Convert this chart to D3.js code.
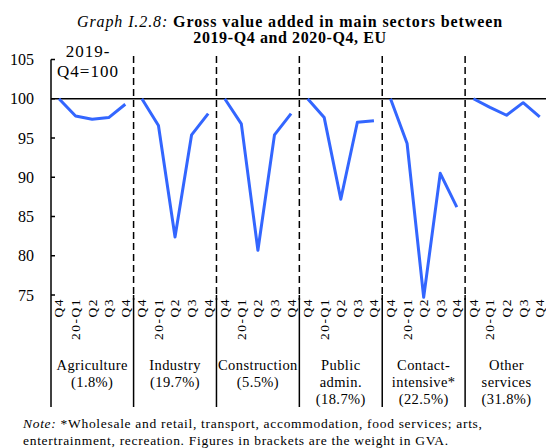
<!DOCTYPE html>
<html>
<head>
<meta charset="utf-8">
<script src="https://cdn.jsdelivr.net/npm/d3@7"></script>
<style>
  body { margin: 0; background: #fff; }
  text { font-family: "Liberation Serif", "Times New Roman", serif; fill: #000; }
</style>
</head>
<body>
<div id="chart"></div>
<script>
// sectors, each with 5 quarters (2019-Q4 .. 2020-Q4), index 2019-Q4 = 100
const sectors = [
  ["Agriculture", "(1.8%)"],
  ["Industry", "(19.7%)"],
  ["Construction", "(5.5%)"],
  ["Public", "admin.", "(18.7%)"],
  ["Contact-", "intensive*", "(22.5%)"],
  ["Other", "services", "(31.8%)"]
];
const quarters = ["Q4", "20-Q1", "Q2", "Q3", "Q4"];
const agriculture = [100, 97.8, 97.4, 97.6, 99.3];
const industry = [100, 96.6, 82.4, 95.4, 98.1];
const construction = [100, 96.8, 80.7, 95.4, 98.1];
const publicAdmin = [100, 97.6, 87.2, 97.0, 97.2];
const contactIntensive = [100, 94.3, 74.7, 90.5, 86.2];
const otherServices = [100, 98.9, 97.9, 99.5, 97.7];
const seriesValues = [agriculture, industry, construction, publicAdmin, contactIntensive, otherServices];
const yTicks = [75, 80, 85, 90, 95, 100, 105];

const W = 546, H = 448;
const svg = d3.select("#chart").append("svg")
  .attr("width", W).attr("height", H);

const nQ = quarters.length;
const keys = d3.range(sectors.length * nQ);

const x = d3.scaleBand()
  .domain(keys)
  .range([50.7, 548]);

const y = d3.scaleLinear()
  .domain([75, 105])
  .range([295, 59.5]);

const axisX = 51;
const bottomY = 407;

// title
const title = svg.append("text")
  .attr("x", 290).attr("y", 27)
  .attr("text-anchor", "middle")
  .style("font-size", "16px")
  .style("letter-spacing", "0.9px");
title.append("tspan").attr("font-style", "italic").text("Graph I.2.8: ");
title.append("tspan").attr("font-weight", "bold").text("Gross value added in main sectors between");
svg.append("text")
  .attr("x", 290).attr("y", 43)
  .attr("text-anchor", "middle")
  .attr("font-weight", "bold")
  .style("font-size", "16px")
  .style("letter-spacing", "0.6px")
  .text("2019-Q4 and 2020-Q4, EU");

// unit label
svg.append("text").attr("x", 88).attr("y", 57)
  .attr("text-anchor", "middle").style("font-size", "17px").style("letter-spacing", "1px").text("2019-");
svg.append("text").attr("x", 88).attr("y", 77)
  .attr("text-anchor", "middle").style("font-size", "17px").style("letter-spacing", "1px").text("Q4=100");

// y axis
svg.append("line")
  .attr("x1", axisX).attr("x2", axisX)
  .attr("y1", y(105)).attr("y2", bottomY)
  .attr("stroke", "#000").attr("stroke-width", 1.5);

svg.selectAll(".ytick")
  .data(yTicks)
  .enter()
  .append("line")
  .attr("x1", axisX).attr("x2", axisX + 4)
  .attr("y1", d => y(d)).attr("y2", d => y(d))
  .attr("stroke", "#000").attr("stroke-width", 1.5);

svg.selectAll(".ylab")
  .data(yTicks)
  .enter()
  .append("text")
  .attr("x", 34)
  .attr("y", d => y(d))
  .attr("dy", "0.35em")
  .attr("text-anchor", "end")
  .style("font-size", "16px")
  .text(d => d);

// reference line at 100
svg.append("line")
  .attr("x1", axisX).attr("x2", W)
  .attr("y1", y(100)).attr("y2", y(100))
  .attr("stroke", "#000").attr("stroke-width", 1.5);

// dividers between sectors
const dividers = d3.range(1, sectors.length).map(g => x(g * nQ));
svg.selectAll(".dash")
  .data(dividers)
  .enter()
  .append("line")
  .attr("x1", d => d).attr("x2", d => d)
  .attr("y1", 56).attr("y2", 300)
  .attr("stroke", "#000").attr("stroke-width", 1.5)
  .attr("stroke-dasharray", "7,4");

svg.selectAll(".solid")
  .data(dividers)
  .enter()
  .append("line")
  .attr("x1", d => d).attr("x2", d => d)
  .attr("y1", y(75)).attr("y2", bottomY)
  .attr("stroke", "#000").attr("stroke-width", 1.5);

// series lines
const line = d3.line()
  .x(d => x(d.k) + x.bandwidth() / 2)
  .y(d => y(d.v));

seriesValues.forEach((vals, g) => {
  svg.append("path")
    .datum(vals.map((v, i) => ({k: g * nQ + i, v: v})))
    .attr("fill", "none")
    .attr("stroke", "#3366ff")
    .attr("stroke-width", 3)
    .attr("stroke-linejoin", "round")
    .attr("d", line);
});

// quarter labels
svg.selectAll(".qlab")
  .data(keys)
  .enter()
  .append("text")
  .attr("transform", d => "translate(" + (x(d) + x.bandwidth() / 2) + ",298) rotate(-90)")
  .attr("dy", "0.33em")
  .attr("text-anchor", "end")
  .style("font-size", "13.5px")
  .style("letter-spacing", "1.5px")
  .text(d => quarters[d % nQ]);

// sector labels
sectors.forEach((lines, g) => {
  const cx = x(g * nQ) + x.bandwidth() * nQ / 2;
  lines.forEach((t, j) => {
    svg.append("text")
      .attr("x", cx).attr("y", 370 + j * 17)
      .attr("text-anchor", "middle")
      .style("font-size", "14.5px")
      .style("letter-spacing", "0.4px")
      .text(t);
  });
});

// note
const note = svg.append("text")
  .attr("x", 23).attr("y", 428)
  .style("font-size", "13.5px")
  .style("letter-spacing", "0.7px");
note.append("tspan").attr("font-style", "italic").text("Note:");
note.append("tspan").text(" *Wholesale and retail, transport, accommodation, food services; arts,");
svg.append("text")
  .attr("x", 23).attr("y", 445)
  .style("font-size", "13.5px")
  .style("letter-spacing", "0.7px")
  .text("entertrainment, recreation. Figures in brackets are the weight in GVA.");
</script>
</body>
</html>
